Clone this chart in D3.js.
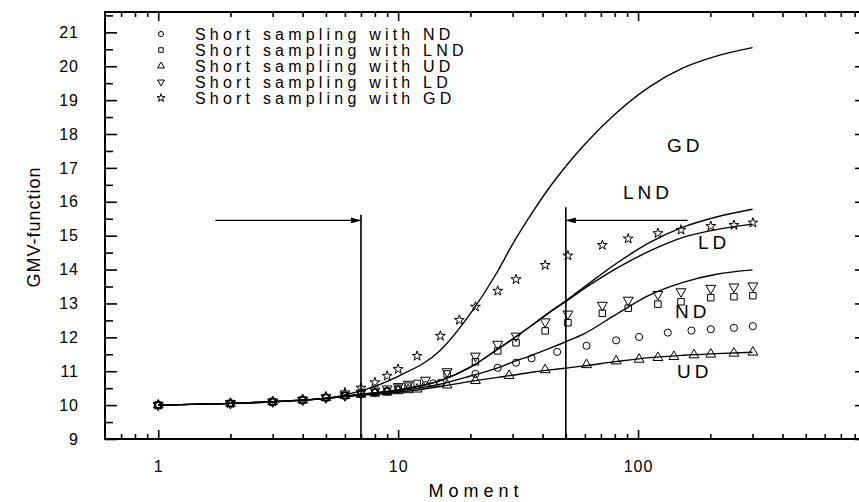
<!DOCTYPE html>
<html>
<head>
<meta charset="utf-8">
<script src="https://cdn.jsdelivr.net/npm/d3@7"></script>
<style>
    body{margin:0;background:#fff;}
    text{font-family:"Liberation Sans",Arial,sans-serif;fill:#000;}
</style>
</head>
<body>
<div id="chart"></div>
<script>
// fitted curves
var curveX=[1,2,3,5,7,10,15,20,26,30,36,43,50,60,82,112,154,212,300];
var curveGD=[10.0,10.05,10.1,10.2,10.42,10.85,11.62,12.7,13.95,14.75,15.65,16.45,17.05,17.7,18.65,19.4,19.95,20.3,20.55];
var curveLND=[10.0,10.05,10.1,10.2,10.32,10.45,10.72,11.12,11.65,11.95,12.35,12.75,13.08,13.5,14.2,14.8,15.25,15.55,15.78];
var curveLD=[10.0,10.05,10.1,10.2,10.32,10.45,10.72,11.12,11.65,11.95,12.35,12.75,13.06,13.45,14.05,14.55,14.95,15.18,15.34];
var curveND=[10.0,10.05,10.1,10.2,10.31,10.42,10.62,10.86,11.1,11.27,11.47,11.68,11.87,12.12,12.7,13.25,13.62,13.86,13.99];
var curveUD=[10.0,10.05,10.1,10.2,10.29,10.38,10.55,10.7,10.82,10.88,10.97,11.04,11.09,11.16,11.29,11.4,11.47,11.52,11.56];

// sampled points
var xGD=[1,2,3,4,5,6,7,8,9,10,12,15,18,21,26,31,41,51,71,91,121,151,201,251,301];
var yGD=[10.0,10.05,10.1,10.17,10.25,10.37,10.51,10.67,10.86,11.06,11.45,12.04,12.51,12.9,13.37,13.71,14.13,14.41,14.72,14.91,15.07,15.17,15.28,15.31,15.38];
var xLND=[1,2,3,4,5,6,7,8,9,10,11,12,16,21,26,31,41,51,71,91,121,151,201,251,301];
var yLND=[10.0,10.05,10.1,10.15,10.22,10.28,10.33,10.37,10.4,10.5,10.56,10.64,10.92,11.28,11.6,11.84,12.19,12.43,12.71,12.86,12.98,13.05,13.17,13.2,13.23];
var xLD=[1,2,3,4,5,6,7,8,9,10,11,13,16,21,26,31,41,51,71,91,121,151,201,251,301];
var yLD=[10.0,10.05,10.1,10.15,10.22,10.28,10.36,10.42,10.48,10.55,10.62,10.74,10.99,11.45,11.8,12.04,12.46,12.69,12.95,13.1,13.27,13.35,13.45,13.49,13.52];
var xND=[1,2,3,4,5,6,7,8,9,10,13,14,15,21,26,31,36,46,61,81,101,133,167,201,251,301];
var yND=[10.0,10.05,10.1,10.15,10.22,10.28,10.33,10.37,10.42,10.46,10.59,10.64,10.66,10.92,11.1,11.25,11.38,11.57,11.75,11.91,12.01,12.14,12.2,12.24,12.28,12.33];
var xUD=[1,2,3,4,5,6,7,8,9,10,11,12,16,21,29,41,61,81,101,121,141,171,201,251,301];
var yUD=[10.0,10.05,10.1,10.15,10.22,10.28,10.32,10.35,10.38,10.42,10.45,10.47,10.59,10.72,10.87,11.04,11.19,11.3,11.35,11.4,11.43,11.48,11.5,11.53,11.56];

var legendNames=["Short sampling with ND","Short sampling with LND","Short sampling with UD","Short sampling with LD","Short sampling with GD"];
var curveNames=["GD","LND","LD","ND","UD"];
var xMajor=[1,10,100];
var xMinor=[0.7,0.8,0.9,2,3,4,5,6,7,8,9,20,30,40,50,60,70,80,90,200,300,400,500,600,700,800];
var yMajor=[9,10,11,12,13,14,15,16,17,18,19,20,21];
var yMinor=[9.5,10.5,11.5,12.5,13.5,14.5,15.5,16.5,17.5,18.5,19.5,20.5,21.5];
var markLines=[7,50];
var arrowY=15.45;

var svg_width=859,
    svg_height=502;

var scale_x=d3.scaleLog()
    .domain([0.6,900])
    .range([105,867]);

var scale_y=d3.scaleLinear()
    .domain([9,21.6])
    .range([439,12]);

var svg=d3.select("#chart")
    .append("svg")
    .attr("width",svg_width)
    .attr("height",svg_height);

var x0=scale_x.range()[0],x1=scale_x.range()[1],
    y0=scale_y.range()[0],y1=scale_y.range()[1];

function styleAxis(g){
    g.select(".domain").remove();
    g.selectAll("line").attr("stroke","#000").attr("stroke-width",1.6);
    g.selectAll("text").attr("font-size","16px").attr("fill","#000")
        .style("font-family","Liberation Sans, Arial, sans-serif")
        .style("letter-spacing","1px");
}

// bottom
svg.append("g").attr("transform","translate(0,"+y0+")")
    .call(d3.axisBottom(scale_x).tickValues(xMajor).tickSize(-9).tickPadding(22)
        .tickFormat(function(d){return d;}))
    .call(styleAxis);
svg.append("g").attr("transform","translate(0,"+y0+")")
    .call(d3.axisBottom(scale_x).tickValues(xMinor).tickSize(-5).tickFormat(""))
    .call(styleAxis);
// top
svg.append("g").attr("transform","translate(0,"+y1+")")
    .call(d3.axisTop(scale_x).tickValues(xMajor).tickSize(-9).tickFormat(""))
    .call(styleAxis);
svg.append("g").attr("transform","translate(0,"+y1+")")
    .call(d3.axisTop(scale_x).tickValues(xMinor).tickSize(-5).tickFormat(""))
    .call(styleAxis);
// left
svg.append("g").attr("transform","translate("+x0+",0)")
    .call(d3.axisLeft(scale_y).tickValues(yMajor).tickSize(-12).tickPadding(26))
    .call(styleAxis);
svg.append("g").attr("transform","translate("+x0+",0)")
    .call(d3.axisLeft(scale_y).tickValues(yMinor).tickSize(-8).tickFormat(""))
    .call(styleAxis);
// right
svg.append("g").attr("transform","translate("+x1+",0)")
    .call(d3.axisRight(scale_y).tickValues(yMajor).tickSize(-12).tickFormat(""))
    .call(styleAxis);
svg.append("g").attr("transform","translate("+x1+",0)")
    .call(d3.axisRight(scale_y).tickValues(yMinor).tickSize(-8).tickFormat(""))
    .call(styleAxis);

// frame
svg.append("rect")
    .attr("x",x0).attr("y",y1)
    .attr("width",x1-x0).attr("height",y0-y1)
    .attr("fill","none").attr("stroke","#000").attr("stroke-width",2);

// axis titles
svg.append("text")
    .text("Moment")
    .attr("x",476).attr("y",497)
    .attr("font-size","18px")
    .style("letter-spacing","5px")
    .style("text-anchor","middle");

svg.append("text")
    .text("GMV-function")
    .attr("transform","translate(40,227) rotate(-90)")
    .attr("font-size","18px")
    .style("letter-spacing","1px")
    .style("text-anchor","middle");

// fitted curves
var line=d3.line()
    .x(function(d){return scale_x(d[0]);})
    .y(function(d){return scale_y(d[1]);})
    .curve(d3.curveMonotoneX);

[curveGD,curveLND,curveLD,curveND,curveUD].forEach(function(c){
    svg.append("path")
        .datum(curveX.map(function(v,i){return [v,c[i]];}))
        .attr("d",line)
        .attr("fill","none")
        .attr("stroke","#000")
        .attr("stroke-width",1.4);
});

// markers
var symND=d3.symbol().type(d3.symbolCircle).size(40),
    symLND=d3.symbol().type(d3.symbolSquare).size(42),
    symUD=d3.symbol().type(d3.symbolTriangle).size(42),
    symLD=d3.symbol().type(d3.symbolTriangle).size(42),
    symGD=d3.symbol().type(d3.symbolStar).size(30);

var series=[
    {xs:xND,ys:yND,sym:symND,rot:0},
    {xs:xLND,ys:yLND,sym:symLND,rot:0},
    {xs:xUD,ys:yUD,sym:symUD,rot:0},
    {xs:xLD,ys:yLD,sym:symLD,rot:180},
    {xs:xGD,ys:yGD,sym:symGD,rot:0}
];

series.forEach(function(s){
    svg.append("g").selectAll("path")
        .data(s.xs.map(function(v,i){return [v,s.ys[i]];}))
        .enter()
        .append("path")
        .attr("d",s.sym())
        .attr("transform",function(d){
            return "translate("+scale_x(d[0])+","+scale_y(d[1])+") rotate("+s.rot+")";
        })
        .attr("fill","none")
        .attr("stroke","#000")
        .attr("stroke-width",1);
});

// legend
var legend=svg.append("g");
series.forEach(function(s,i){
    var ly=34+i*16;
    legend.append("path")
        .attr("d",d3.symbol().type(s.sym.type()).size(20)())
        .attr("transform","translate(161,"+ly+") rotate("+s.rot+")")
        .attr("fill","none").attr("stroke","#000").attr("stroke-width",1);
    legend.append("text")
        .text(legendNames[i])
        .attr("x",195).attr("y",ly+5.5)
        .attr("font-size","16px")
        .style("letter-spacing","4.2px");
});

// marker lines with arrows
svg.append("defs").append("marker")
    .attr("id","arr")
    .attr("viewBox","0 0 10 6")
    .attr("refX",10).attr("refY",3)
    .attr("markerWidth",14).attr("markerHeight",6)
    .attr("markerUnits","userSpaceOnUse")
    .attr("orient","auto")
    .append("path").attr("d","M0,0L10,3L0,6Z").attr("fill","#000");

var vTop=[15.62,15.84];
var arrowFrom=[1.73,161];
markLines.forEach(function(v,i){
    svg.append("line")
        .attr("x1",scale_x(v)).attr("x2",scale_x(v))
        .attr("y1",y0).attr("y2",scale_y(vTop[i]))
        .attr("stroke","#000").attr("stroke-width",1.6);
    svg.append("line")
        .attr("x1",scale_x(arrowFrom[i])).attr("x2",scale_x(v))
        .attr("y1",scale_y(arrowY)).attr("y2",scale_y(arrowY))
        .attr("stroke","#000").attr("stroke-width",1.2)
        .attr("marker-end","url(#arr)");
});

// curve labels
var labelPos=[[667,152],[623,199],[698,249],[675,318],[677,378]];
curveNames.forEach(function(n,i){
    svg.append("text")
        .text(n)
        .attr("x",labelPos[i][0]).attr("y",labelPos[i][1])
        .attr("font-size","19px")
        .style("letter-spacing","4px");
});
</script>
</body>
</html>
